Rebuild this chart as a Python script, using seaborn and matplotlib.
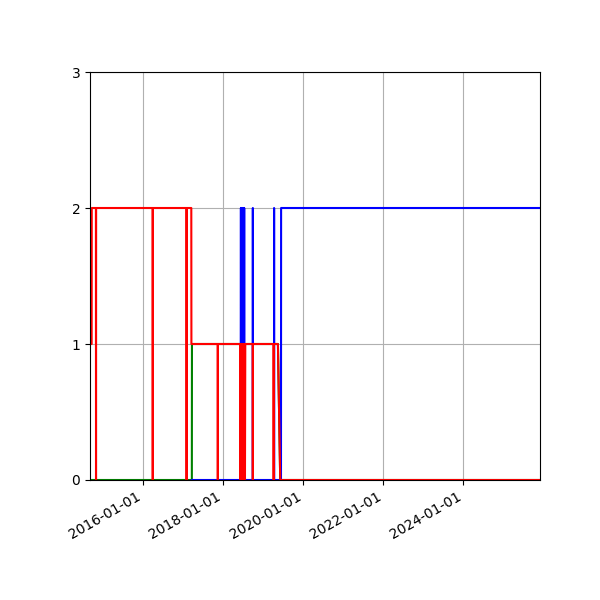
import matplotlib
matplotlib.use("Agg")
import matplotlib.pyplot as plt
import matplotlib.dates as mdates
import seaborn as sns
import pandas as pd

# ---- data ----
green_dates = ["2014-09-01", "2017-03-19", "2017-03-20", "2019-05-14", "2019-06-04", "2025-12-01"]
green_values = [0, 0, 1, 1, 0, 0]

blue_dates = ["2017-03-20",
              "2018-06-07", "2018-06-10", "2018-06-13", "2018-06-16", "2018-06-19", "2018-06-22",
              "2018-06-25", "2018-06-28", "2018-07-01", "2018-07-04", "2018-07-07", "2018-07-10",
              "2018-07-13",
              "2018-09-26", "2018-09-27", "2018-09-28",
              "2019-04-08", "2019-04-09", "2019-04-10",
              "2019-06-11", "2019-06-12", "2025-12-01"]
blue_values = [0,
               0, 2, 0, 2, 0, 2,
               0, 2, 0, 2, 0, 2,
               0,
               0, 2, 0,
               0, 2, 0,
               0, 2, 2]

red_dates = ["2014-09-01", "2014-09-16", "2014-09-17",
             "2014-10-25", "2014-10-26", "2014-10-27",
             "2016-03-26", "2016-03-27", "2016-03-28",
             "2017-01-29", "2017-01-30", "2017-01-31",
             "2017-03-14", "2017-03-15",
             "2017-11-10", "2017-11-11", "2017-11-12",
             "2018-06-02", "2018-06-05", "2018-06-08", "2018-06-11", "2018-06-14", "2018-06-17",
             "2018-06-20", "2018-06-23", "2018-06-26", "2018-06-29", "2018-07-02",
             "2018-07-05", "2018-07-08", "2018-07-11", "2018-07-14", "2018-07-17", "2018-07-20",
             "2018-09-26", "2018-09-27", "2018-09-28",
             "2019-04-04", "2019-04-05", "2019-04-06",
             "2019-05-14", "2019-06-04", "2025-12-01"]
red_values = [1, 1, 2,
              2, 0, 2,
              2, 0, 2,
              2, 0, 2,
              2, 1,
              1, 0, 1,
              1, 0, 1, 0, 1, 0,
              1, 0, 1, 0, 1,
              0, 1, 0, 1, 0, 1,
              1, 0, 1,
              1, 0, 1,
              1, 0, 0]

y_ticks = [0, 1, 2, 3]

fig, ax = plt.subplots(figsize=(6, 6), dpi=100)

for dates, vals, col in [(green_dates, green_values, "green"),
                         (blue_dates, blue_values, "blue"),
                         (red_dates, red_values, "red")]:
    sns.lineplot(x=pd.to_datetime(dates), y=vals, color=col, linewidth=1.5,
                 estimator=None, sort=False, ax=ax)

ax.set_xlim(pd.Timestamp("2014-09-01"), pd.Timestamp("2025-12-01"))
ax.set_ylim(0, 3)
ax.set_yticks(y_ticks)
ax.xaxis.set_major_locator(mdates.YearLocator(2))
ax.xaxis.set_major_formatter(mdates.DateFormatter("%Y-%m-%d"))
ax.grid(True)
ax.set_xlabel("")
ax.set_ylabel("")
fig.autofmt_xdate()
fig.subplots_adjust(left=0.15, right=0.9, top=0.88, bottom=0.2)
fig.savefig("out.png", dpi=100)
